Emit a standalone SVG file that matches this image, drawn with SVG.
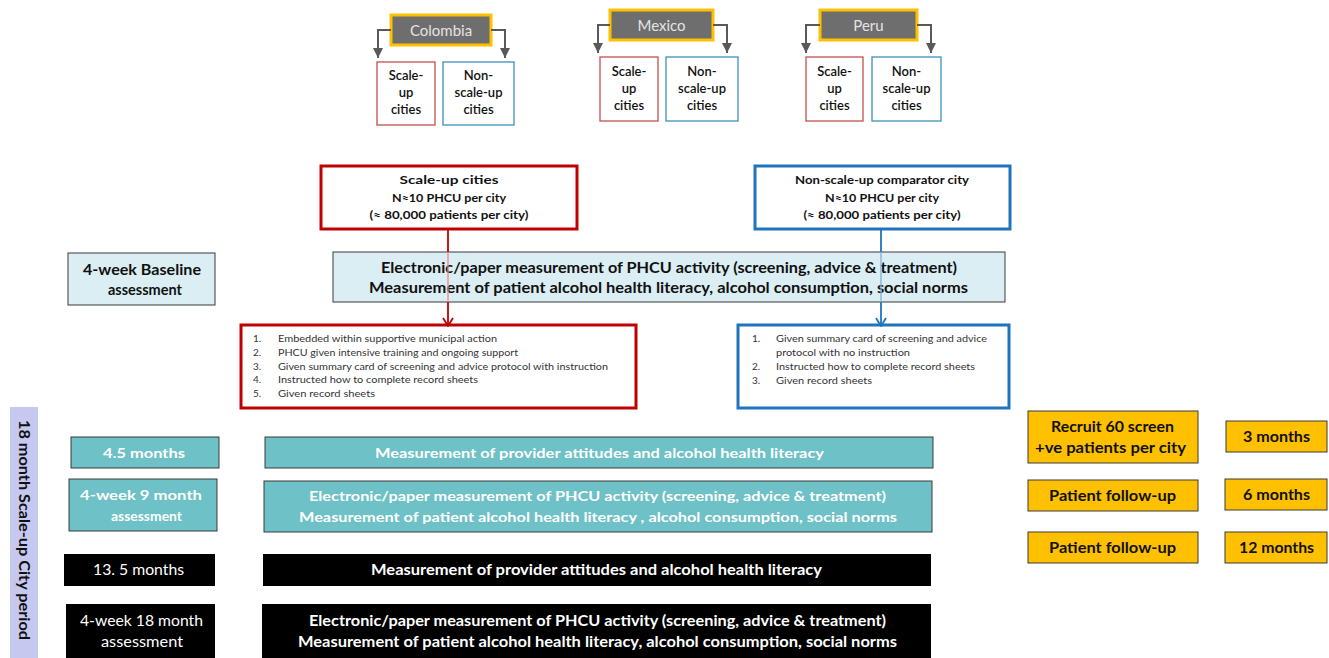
<svg xmlns="http://www.w3.org/2000/svg" width="1329" height="658" viewBox="0 0 1329 658">
<style>
text{font-family:Lato,"Liberation Sans",Arial,sans-serif}
.country{fill:#6e6e6e;stroke:#ffc000;stroke-width:3}
.ctext{fill:#e4e4e4;font-size:15px;text-anchor:middle;dominant-baseline:central}
.sred{fill:#fff;stroke:#c0504d;stroke-width:1.3}
.sblue{fill:#fff;stroke:#3a93b8;stroke-width:1.3}
.stext{fill:#111;font-size:13px;font-weight:600;text-anchor:middle}
.bigred{fill:#fff;stroke:#c00000;stroke-width:3}
.bigblue{fill:#fff;stroke:#1f74bd;stroke-width:3}
.btext{fill:#111;font-size:12px;font-weight:700;text-anchor:middle}
.light{fill:#daeef3;stroke:#3a3a3a;stroke-width:1}
.ltext{fill:#111;font-size:15px;font-weight:700;text-anchor:middle}
.list{fill:#333;font-size:10px}
.teal{fill:#6ec1c6;stroke:#3a3a3a;stroke-width:1}
.ttext{fill:#fff;font-size:14px;font-weight:700;text-anchor:middle}
.blk{fill:#000}
.wtext{fill:#fff;font-size:14.5px;text-anchor:middle}
.wbold{fill:#fff;font-size:14.5px;font-weight:700;text-anchor:middle}
.org{fill:#ffc000;stroke:#3a3a3a;stroke-width:1}
.otext{fill:#111;font-size:14.5px;font-weight:700;text-anchor:middle}
.cline{fill:none;stroke:#595959;stroke-width:2}
</style>
<defs>
<marker id="tri" viewBox="0 0 10 10" refX="10" refY="5" markerWidth="10" markerHeight="10" markerUnits="userSpaceOnUse" orient="auto">
<path d="M0,0 L10,5 L0,10 z" fill="#595959"/>
</marker>
<marker id="vred" viewBox="0 0 12 10" refX="6" refY="9" markerWidth="12" markerHeight="10" markerUnits="userSpaceOnUse" orient="0">
<polyline points="1,1 6,9 11,1" fill="none" stroke="#c00000" stroke-width="1.8"/>
</marker>
<marker id="vblue" viewBox="0 0 12 10" refX="6" refY="9" markerWidth="12" markerHeight="10" markerUnits="userSpaceOnUse" orient="0">
<polyline points="1,1 6,9 11,1" fill="none" stroke="#1f74bd" stroke-width="1.8"/>
</marker>
</defs>

<!-- country nodes -->
<g id="colombia"><rect class="country" x="391" y="15" width="100" height="30"/><text class="ctext" x="441" y="30">Colombia</text></g>
<g id="colombia-scale"><rect class="sred" x="377" y="62" width="58" height="63"/><text class="stext" x="406" y="80">Scale-</text><text class="stext" x="406" y="97">up</text><text class="stext" x="406" y="114">cities</text></g>
<g id="colombia-nonscale"><rect class="sblue" x="443" y="62" width="71" height="63"/><text class="stext" x="478.5" y="80">Non-</text><text class="stext" x="478.5" y="97">scale-up</text><text class="stext" x="478.5" y="114">cities</text></g>

<g id="mexico"><rect class="country" x="610" y="10" width="103" height="30"/><text class="ctext" x="661.5" y="25">Mexico</text></g>
<g id="mexico-scale"><rect class="sred" x="600" y="57" width="58" height="64"/><text class="stext" x="629" y="76">Scale-</text><text class="stext" x="629" y="93">up</text><text class="stext" x="629" y="110">cities</text></g>
<g id="mexico-nonscale"><rect class="sblue" x="666" y="57" width="72" height="64"/><text class="stext" x="702" y="76">Non-</text><text class="stext" x="702" y="93">scale-up</text><text class="stext" x="702" y="110">cities</text></g>

<g id="peru"><rect class="country" x="820" y="10" width="97" height="30"/><text class="ctext" x="868.5" y="25">Peru</text></g>
<g id="peru-scale"><rect class="sred" x="806" y="57" width="57" height="64"/><text class="stext" x="834.5" y="76">Scale-</text><text class="stext" x="834.5" y="93">up</text><text class="stext" x="834.5" y="110">cities</text></g>
<g id="peru-nonscale"><rect class="sblue" x="872" y="57" width="69" height="64"/><text class="stext" x="906.5" y="76">Non-</text><text class="stext" x="906.5" y="93">scale-up</text><text class="stext" x="906.5" y="110">cities</text></g>

<!-- main boxes -->
<g id="scaleup-cities"><rect class="bigred" x="321" y="166" width="256" height="63"/>
<text class="btext" x="449" y="184" textLength="99" lengthAdjust="spacingAndGlyphs">Scale-up  cities</text>
<text class="btext" x="449" y="202" textLength="114" lengthAdjust="spacingAndGlyphs">N≈10 PHCU per city</text>
<text class="btext" x="449" y="219" textLength="159" lengthAdjust="spacingAndGlyphs">(≈ 80,000 patients per city)</text></g>

<g id="nonscale-city"><rect class="bigblue" x="755" y="166" width="255" height="63"/>
<text class="btext" x="882" y="184" textLength="174" lengthAdjust="spacingAndGlyphs">Non-scale-up  comparator city</text>
<text class="btext" x="882" y="202" textLength="114" lengthAdjust="spacingAndGlyphs">N≈10 PHCU per city</text>
<text class="btext" x="882" y="219" textLength="157" lengthAdjust="spacingAndGlyphs">(≈ 80,000 patients per city)</text></g>

<g id="baseline-label"><rect class="light" x="68" y="253" width="147" height="52"/>
<text class="ltext" x="142" y="275" font-size="14.5" textLength="118" lengthAdjust="spacingAndGlyphs">4-week  Baseline</text>
<text class="ltext" x="145" y="295" font-size="14.5" textLength="74" lengthAdjust="spacingAndGlyphs">assessment</text></g>

<g id="baseline-measure"><rect class="light" x="333" y="252" width="672" height="50"/>
<text class="ltext" x="669" y="273" textLength="576" lengthAdjust="spacingAndGlyphs">Electronic/paper measurement of PHCU activity (screening, advice &amp; treatment)</text>
<text class="ltext" x="668.5" y="293" textLength="599" lengthAdjust="spacingAndGlyphs">Measurement of patient alcohol health literacy, alcohol consumption, social norms</text></g>

<g id="scaleup-actions"><rect class="bigred" x="241" y="325" width="395" height="83"/>
<g class="list">
<text x="253" y="342">1.</text><text x="278" y="342" textLength="219" lengthAdjust="spacingAndGlyphs">Embedded within supportive municipal action</text>
<text x="253" y="356">2.</text><text x="278" y="356" textLength="240" lengthAdjust="spacingAndGlyphs">PHCU given intensive training and ongoing support</text>
<text x="253" y="370">3.</text><text x="278" y="370" textLength="330" lengthAdjust="spacingAndGlyphs">Given summary card of screening and advice protocol with instruction</text>
<text x="253" y="383">4.</text><text x="278" y="383" textLength="200" lengthAdjust="spacingAndGlyphs">Instructed how to complete record sheets</text>
<text x="253" y="397">5.</text><text x="278" y="397" textLength="97" lengthAdjust="spacingAndGlyphs">Given record sheets</text>
</g></g>

<g id="nonscale-actions"><rect class="bigblue" x="738" y="325" width="271" height="83"/>
<g class="list">
<text x="752" y="342">1.</text><text x="776" y="342" textLength="211" lengthAdjust="spacingAndGlyphs">Given summary card of screening and advice</text>
<text x="776" y="356" textLength="134" lengthAdjust="spacingAndGlyphs">protocol with no instruction</text>
<text x="752" y="370">2.</text><text x="776" y="370" textLength="199" lengthAdjust="spacingAndGlyphs">Instructed how to complete record sheets</text>
<text x="752" y="384">3.</text><text x="776" y="384" textLength="96" lengthAdjust="spacingAndGlyphs">Given record sheets</text>
</g></g>

<!-- period label -->
<g id="period"><rect x="10" y="407" width="28" height="251" fill="#c7c8ef"/>
<text transform="translate(24,530) rotate(90)" text-anchor="middle" dominant-baseline="central" font-size="14.5" font-weight="700" fill="#111" textLength="220" lengthAdjust="spacingAndGlyphs">18 month Scale-up City period</text></g>

<!-- timeline left labels -->
<g id="t-4-5"><rect class="teal" x="71" y="437" width="148" height="31"/><text class="ttext" x="144" y="458" textLength="82" lengthAdjust="spacingAndGlyphs">4.5 months</text></g>
<g id="t-9"><rect class="teal" x="69" y="479" width="148" height="52"/><text class="ttext" x="141" y="500" textLength="122" lengthAdjust="spacingAndGlyphs">4-week  9 month</text><text class="ttext" x="146.5" y="521" textLength="71" lengthAdjust="spacingAndGlyphs">assessment</text></g>
<g id="t-13-5"><rect class="blk" x="64" y="554" width="151" height="32"/><text class="wtext" x="138.5" y="575" textLength="91" lengthAdjust="spacingAndGlyphs">13. 5 months</text></g>
<g id="t-18"><rect class="blk" x="66" y="604" width="149" height="54"/><text class="wtext" x="141.5" y="626" textLength="123" lengthAdjust="spacingAndGlyphs">4-week  18 month</text><text class="wtext" x="142" y="647" textLength="82" lengthAdjust="spacingAndGlyphs">assessment</text></g>

<!-- timeline bars -->
<g id="m-4-5"><rect class="teal" x="265" y="437" width="668" height="31"/><text class="ttext" x="599.5" y="458" textLength="449" lengthAdjust="spacingAndGlyphs">Measurement of provider attitudes and alcohol health literacy</text></g>
<g id="m-9"><rect class="teal" x="264" y="481" width="668" height="51"/>
<text class="ttext" x="597.5" y="501" textLength="577" lengthAdjust="spacingAndGlyphs">Electronic/paper measurement of PHCU activity (screening, advice &amp; treatment)</text>
<text class="ttext" x="598" y="522" textLength="598" lengthAdjust="spacingAndGlyphs">Measurement of patient alcohol health literacy , alcohol consumption, social norms</text></g>
<g id="m-13-5"><rect class="blk" x="263" y="554" width="668" height="32"/><text class="wbold" x="596.5" y="575" textLength="451" lengthAdjust="spacingAndGlyphs">Measurement of provider attitudes and alcohol health literacy</text></g>
<g id="m-18"><rect class="blk" x="262" y="604" width="669" height="54"/>
<text class="wbold" x="597.5" y="626" textLength="577" lengthAdjust="spacingAndGlyphs">Electronic/paper measurement of PHCU activity (screening, advice &amp; treatment)</text>
<text class="wbold" x="597.5" y="647" textLength="599" lengthAdjust="spacingAndGlyphs">Measurement of patient alcohol health literacy, alcohol consumption, social norms</text></g>

<!-- patient follow-up -->
<g id="recruit"><rect class="org" x="1028" y="411" width="170" height="52"/><text class="otext" x="1112.5" y="432" textLength="123" lengthAdjust="spacingAndGlyphs">Recruit 60 screen</text><text class="otext" x="1110.5" y="453" textLength="151" lengthAdjust="spacingAndGlyphs">+ve patients per city</text></g>
<g id="m3"><rect class="org" x="1226" y="421" width="101" height="31"/><text class="otext" x="1276.5" y="442" textLength="67" lengthAdjust="spacingAndGlyphs">3 months</text></g>
<g id="followup6"><rect class="org" x="1028" y="480" width="170" height="31"/><text class="otext" x="1112.5" y="501" textLength="127" lengthAdjust="spacingAndGlyphs">Patient follow-up</text></g>
<g id="m6"><rect class="org" x="1225" y="479" width="102" height="31"/><text class="otext" x="1276.5" y="500" textLength="67" lengthAdjust="spacingAndGlyphs">6 months</text></g>
<g id="followup12"><rect class="org" x="1028" y="532" width="170" height="31"/><text class="otext" x="1112.5" y="553" textLength="127" lengthAdjust="spacingAndGlyphs">Patient follow-up</text></g>
<g id="m12"><rect class="org" x="1225" y="532" width="102" height="31"/><text class="otext" x="1276.5" y="553" textLength="75" lengthAdjust="spacingAndGlyphs">12 months</text></g>

<!-- connectors -->
<g id="connectors">
<polyline class="cline" points="391,30 378,30 378,58" marker-end="url(#tri)"/>
<polyline class="cline" points="491,30 505,30 505,58" marker-end="url(#tri)"/>
<polyline class="cline" points="610,25 598,25 598,53" marker-end="url(#tri)"/>
<polyline class="cline" points="713,25 727,25 727,53" marker-end="url(#tri)"/>
<polyline class="cline" points="820,25 806,25 806,53" marker-end="url(#tri)"/>
<polyline class="cline" points="917,25 931,25 931,53" marker-end="url(#tri)"/>
<line x1="448" y1="230" x2="448" y2="252" stroke="#c00000" stroke-width="1.8"/>
<line x1="448" y1="252" x2="448" y2="302" stroke="#e88a8a" stroke-width="1.3"/>
<line x1="448" y1="302" x2="448" y2="326" stroke="#c00000" stroke-width="1.8" marker-end="url(#vred)"/>
<line x1="881" y1="230" x2="881" y2="252" stroke="#1f74bd" stroke-width="1.8"/>
<line x1="881" y1="252" x2="881" y2="302" stroke="#7fb0d8" stroke-width="1.3"/>
<line x1="881" y1="302" x2="881" y2="326" stroke="#1f74bd" stroke-width="1.8" marker-end="url(#vblue)"/>
</g>
</svg>
